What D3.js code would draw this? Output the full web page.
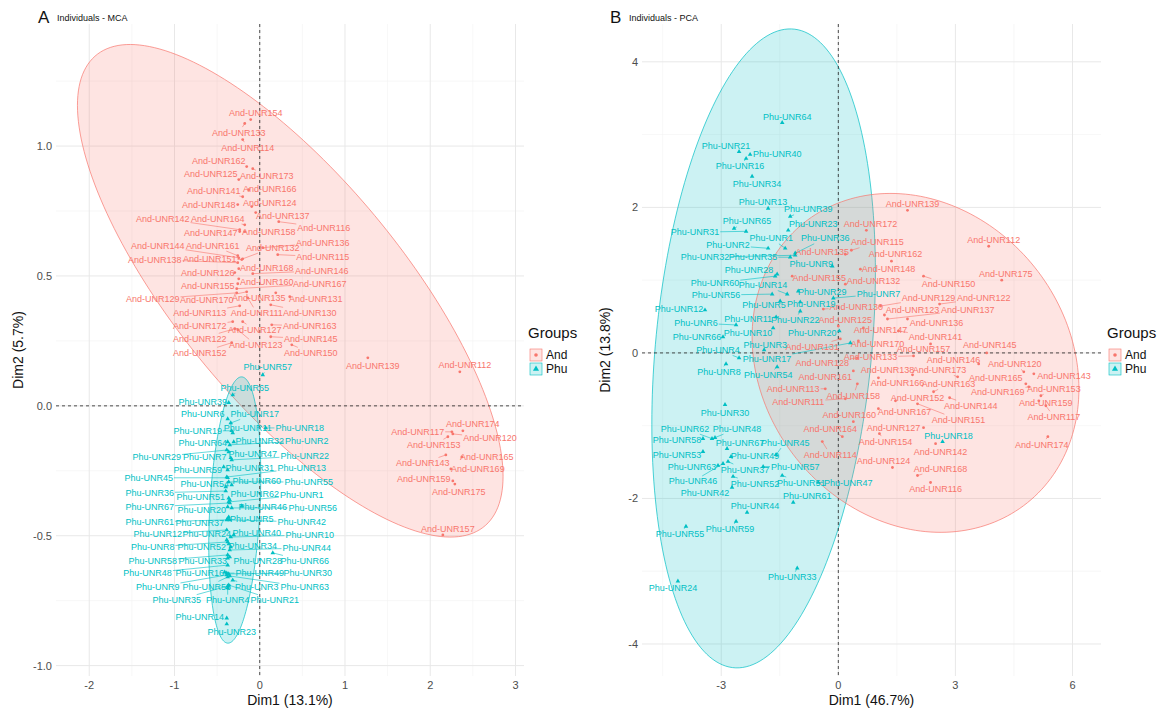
<!DOCTYPE html>
<html><head><meta charset="utf-8">
<script src="https://cdn.jsdelivr.net/npm/d3@7"></script>
<style>
body{margin:0;background:#fff;}
text{font-family:"Liberation Sans",Arial,sans-serif;}
</style></head><body>
<svg id="chart" width="1168" height="709"></svg>
<script>
const groups = ["And", "Phu"];
const groupColors = ["#F8766D", "#00BFC4"];

// MCA individuals: [id, Dim1, Dim2, label Dim1, label Dim2]
const mcaAnd = [
  ["And-UNR154",-0.106,1.102,-0.047,1.129],["And-UNR133",-0.176,1.087,-0.246,1.052],
  ["And-UNR114",-0.200,1.025,-0.141,0.994],["And-UNR162",-0.153,0.921,-0.481,0.944],
  ["And-UNR173",-0.082,0.913,0.082,0.886],["And-UNR125",-0.246,0.871,-0.575,0.894],
  ["And-UNR141",-0.200,0.805,-0.540,0.829],["And-UNR166",-0.129,0.832,0.117,0.836],
  ["And-UNR148",-0.258,0.775,-0.599,0.775],["And-UNR124",-0.094,0.767,0.117,0.782],
  ["And-UNR142",-0.235,0.678,-1.138,0.721],["And-UNR164",-0.176,0.697,-0.493,0.721],
  ["And-UNR137",-0.047,0.744,0.270,0.732],["And-UNR116",0.223,0.709,0.751,0.686],
  ["And-UNR147",-0.235,0.671,-0.575,0.667],["And-UNR158",-0.176,0.671,0.106,0.671],
  ["And-UNR144",-0.246,0.570,-1.197,0.617],["And-UNR161",-0.258,0.578,-0.552,0.617],
  ["And-UNR132",-0.200,0.566,0.153,0.609],["And-UNR136",0.035,0.609,0.739,0.628],
  ["And-UNR115",0.211,0.582,0.739,0.574],["And-UNR138",-0.258,0.551,-1.232,0.563],
  ["And-UNR151",-0.211,0.563,-0.587,0.566],["And-UNR126",-0.293,0.513,-0.610,0.513],
  ["And-UNR168",-0.246,0.528,0.082,0.532],["And-UNR146",-0.082,0.509,0.728,0.520],
  ["And-UNR155",-0.258,0.470,-0.610,0.462],["And-UNR160",-0.246,0.489,0.082,0.478],
  ["And-UNR167",-0.270,0.451,0.704,0.470],["And-UNR129",-0.270,0.435,-1.256,0.412],
  ["And-UNR170",-0.153,0.439,-0.622,0.408],["And-UNR135",0.188,0.435,-0.012,0.416],
  ["And-UNR131",0.352,0.420,0.657,0.412],["And-UNR113",-0.235,0.385,-0.704,0.358],
  ["And-UNR111",-0.141,0.416,-0.035,0.358],["And-UNR130",0.129,0.389,0.587,0.358],
  ["And-UNR172",-0.317,0.324,-0.704,0.308],["And-UNR127",-0.200,0.324,-0.059,0.293],
  ["And-UNR163",0.141,0.312,0.587,0.308],["And-UNR122",-0.293,0.297,-0.704,0.258],
  ["And-UNR145",0.129,0.266,0.599,0.258],["And-UNR123",-0.258,0.293,-0.047,0.235],
  ["And-UNR152",-0.329,0.243,-0.704,0.204],["And-UNR150",0.376,0.235,0.599,0.204],
  ["And-UNR139",1.268,0.185,1.326,0.154],["And-UNR112",2.347,0.131,2.406,0.158],
  ["And-UNR174",2.383,-0.096,2.500,-0.069],["And-UNR117",2.254,-0.100,1.854,-0.100],
  ["And-UNR120",2.265,-0.108,2.700,-0.123],["And-UNR153",2.207,-0.119,2.042,-0.150],
  ["And-UNR143",2.183,-0.189,1.913,-0.220],["And-UNR165",2.371,-0.197,2.664,-0.197],
  ["And-UNR169",2.242,-0.243,2.559,-0.243],["And-UNR159",2.265,-0.289,1.925,-0.281],
  ["And-UNR175",2.289,-0.301,2.336,-0.331],["And-UNR157",2.148,-0.497,2.207,-0.474]
];
const mcaPhu = [
  ["Phu-UNR57",0.035,0.119,0.094,0.150],["Phu-UNR65",-0.317,0.042,-0.176,0.069],
  ["Phu-UNR39",-0.364,0.012,-0.669,0.015],["Phu-UNR6",-0.376,-0.050,-0.669,-0.031],
  ["Phu-UNR17",-0.340,-0.066,-0.059,-0.031],["Phu-UNR19",-0.329,-0.096,-0.728,-0.096],
  ["Phu-UNR11",-0.317,-0.104,-0.141,-0.085],["Phu-UNR18",0.070,-0.085,0.469,-0.085],
  ["Phu-UNR64",-0.376,-0.139,-0.669,-0.143],["Phu-UNR32",-0.305,-0.139,0.000,-0.135],
  ["Phu-UNR2",-0.352,-0.150,0.552,-0.135],["Phu-UNR29",-0.387,-0.170,-1.209,-0.197],
  ["Phu-UNR7",-0.364,-0.177,-0.646,-0.197],["Phu-UNR47",-0.340,-0.200,-0.082,-0.185],
  ["Phu-UNR22",-0.329,-0.208,0.528,-0.193],["Phu-UNR59",-0.423,-0.235,-0.728,-0.247],
  ["Phu-UNR31",-0.376,-0.247,-0.117,-0.239],["Phu-UNR13",-0.387,-0.274,0.493,-0.239],
  ["Phu-UNR45",-0.376,-0.277,-1.303,-0.277],["Phu-UNR54",-0.399,-0.312,-0.646,-0.301],
  ["Phu-UNR60",-0.329,-0.304,-0.035,-0.289],["Phu-UNR55",-0.364,-0.293,0.575,-0.293],
  ["Phu-UNR36",-0.399,-0.328,-1.291,-0.335],["Phu-UNR51",-0.364,-0.355,-0.692,-0.351],
  ["Phu-UNR62",-0.352,-0.362,-0.059,-0.339],["Phu-UNR1",-0.364,-0.370,0.493,-0.343],
  ["Phu-UNR67",-0.352,-0.374,-1.291,-0.389],["Phu-UNR20",-0.376,-0.389,-0.681,-0.401],
  ["Phu-UNR46",-0.211,-0.385,0.035,-0.389],["Phu-UNR56",-0.329,-0.393,0.622,-0.393],
  ["Phu-UNR61",-0.387,-0.439,-1.291,-0.447],["Phu-UNR37",-0.376,-0.435,-0.704,-0.451],
  ["Phu-UNR5",-0.364,-0.428,-0.094,-0.435],["Phu-UNR42",-0.352,-0.439,0.493,-0.447],
  ["Phu-UNR12",-0.387,-0.478,-1.197,-0.493],["Phu-UNR24",-0.387,-0.516,-0.622,-0.493],
  ["Phu-UNR40",-0.305,-0.497,-0.035,-0.489],["Phu-UNR10",-0.340,-0.505,0.587,-0.497],
  ["Phu-UNR8",-0.376,-0.524,-1.256,-0.543],["Phu-UNR52",-0.364,-0.532,-0.681,-0.543],
  ["Phu-UNR34",-0.340,-0.543,-0.082,-0.539],["Phu-UNR44",-0.352,-0.555,0.552,-0.547],
  ["Phu-UNR58",-0.376,-0.574,-1.256,-0.597],["Phu-UNR33",-0.376,-0.586,-0.669,-0.597],
  ["Phu-UNR28",-0.352,-0.582,-0.023,-0.597],["Phu-UNR66",0.153,-0.566,0.528,-0.597],
  ["Phu-UNR48",-0.376,-0.613,-1.315,-0.644],["Phu-UNR16",-0.411,-0.640,-0.704,-0.644],
  ["Phu-UNR49",-0.387,-0.644,0.000,-0.644],["Phu-UNR30",-0.364,-0.647,0.563,-0.644],
  ["Phu-UNR9",-0.387,-0.651,-1.197,-0.697],["Phu-UNR53",-0.376,-0.659,-0.622,-0.697],
  ["Phu-UNR3",-0.317,-0.671,-0.035,-0.697],["Phu-UNR63",-0.352,-0.655,0.528,-0.697],
  ["Phu-UNR35",-0.376,-0.694,-0.974,-0.748],["Phu-UNR4",-0.376,-0.701,-0.376,-0.748],
  ["Phu-UNR21",-0.364,-0.690,0.176,-0.748],["Phu-UNR14",-0.387,-0.817,-0.704,-0.813],
  ["Phu-UNR23",-0.387,-0.840,-0.329,-0.871]
];

// PCA individuals: [id, Dim1, Dim2, label Dim1, label Dim2]
const pcaAnd = [
  ["And-UNR139",1.772,1.959,1.901,2.041],["And-UNR172",0.719,1.685,0.822,1.767],
  ["And-UNR115",0.334,1.411,1.002,1.521],["And-UNR162",1.361,1.260,1.464,1.356],
  ["And-UNR148",0.565,1.151,1.284,1.151],["And-UNR112",3.853,1.466,3.982,1.548],
  ["And-UNR135",0.180,1.356,-0.411,1.384],["And-UNR155",-1.182,1.055,-0.488,1.027],
  ["And-UNR132",0.180,0.945,0.899,0.986],["And-UNR150",2.183,1.055,2.826,0.945],
  ["And-UNR175",4.187,1.000,4.290,1.082],["And-UNR129",1.079,0.644,2.312,0.753],
  ["And-UNR122",2.594,0.671,3.725,0.753],["And-UNR130",-0.385,0.603,0.462,0.630],
  ["And-UNR123",1.182,0.521,1.901,0.589],["And-UNR137",1.259,0.466,3.314,0.589],
  ["And-UNR136",1.772,0.466,2.517,0.411],["And-UNR147",0.642,0.342,1.079,0.315],
  ["And-UNR141",1.541,0.301,2.492,0.219],["And-UNR125",0.000,0.370,0.180,0.452],
  ["And-UNR131",0.051,0.192,-0.668,0.082],["And-UNR170",0.514,0.164,1.002,0.123],
  ["And-UNR157",2.363,0.123,2.183,0.055],["And-UNR145",3.802,0.000,3.879,0.110],
  ["And-UNR133",1.927,-0.041,0.822,-0.055],["And-UNR146",3.596,-0.151,2.954,-0.096],
  ["And-UNR120",4.752,-0.260,4.521,-0.151],["And-UNR138",1.901,-0.301,1.259,-0.233],
  ["And-UNR173",3.057,-0.329,2.594,-0.233],["And-UNR143",5.009,-0.288,5.780,-0.315],
  ["And-UNR128",0.488,-0.068,-0.411,-0.137],["And-UNR161",0.385,-0.247,-0.334,-0.329],
  ["And-UNR158",0.488,-0.425,0.385,-0.589],["And-UNR166",1.027,-0.342,1.516,-0.411],
  ["And-UNR163",2.440,-0.534,2.826,-0.425],["And-UNR165",4.804,-0.425,4.033,-0.342],
  ["And-UNR169",4.881,-0.466,4.084,-0.534],["And-UNR153",5.189,-0.589,5.523,-0.493],
  ["And-UNR152",1.464,-0.658,2.029,-0.616],["And-UNR144",2.851,-0.616,3.391,-0.726],
  ["And-UNR159",5.137,-0.658,5.317,-0.685],["And-UNR113",-0.334,-0.493,-1.156,-0.493],
  ["And-UNR111",0.180,-0.630,-1.027,-0.671],["And-UNR160",0.385,-0.945,0.283,-0.849],
  ["And-UNR167",1.027,-0.767,1.695,-0.808],["And-UNR151",2.029,-0.699,3.082,-0.918],
  ["And-UNR117",5.317,-0.726,5.523,-0.877],["And-UNR164",0.103,-1.151,-0.206,-1.041],
  ["And-UNR127",2.183,-1.027,1.413,-1.027],["And-UNR154",1.053,-1.110,1.207,-1.219],
  ["And-UNR142",2.492,-1.247,2.620,-1.356],["And-UNR174",5.369,-1.151,5.214,-1.260],
  ["And-UNR114",-0.411,-1.219,-0.206,-1.397],["And-UNR124",1.387,-1.575,1.156,-1.479],
  ["And-UNR168",2.029,-1.685,2.620,-1.589],["And-UNR116",2.363,-1.781,2.492,-1.877]
];
const pcaPhu = [
  ["Phu-UNR64",-1.438,3.164,-1.310,3.247],["Phu-UNR21",-2.543,2.767,-2.877,2.849],
  ["Phu-UNR40",-2.260,2.726,-1.567,2.740],["Phu-UNR16",-2.363,2.671,-2.517,2.562],
  ["Phu-UNR34",-2.209,2.425,-2.081,2.315],["Phu-UNR13",-1.798,1.986,-1.927,2.068],
  ["Phu-UNR39",-1.233,1.877,-0.771,1.973],["Phu-UNR65",-2.671,1.712,-2.338,1.808],
  ["Phu-UNR23",-1.284,1.685,-0.642,1.767],["Phu-UNR31",-2.363,1.671,-3.673,1.658],
  ["Phu-UNR1",-1.361,1.438,-1.721,1.575],["Phu-UNR36",-1.105,1.370,-0.334,1.575],
  ["Phu-UNR2",-1.798,1.438,-2.826,1.479],["Phu-UNR32",-1.105,1.342,-3.416,1.315],
  ["Phu-UNR35",-1.233,1.315,-2.183,1.315],["Phu-UNR9",-0.154,1.192,-0.694,1.219],
  ["Phu-UNR28",-1.567,1.082,-2.286,1.137],["Phu-UNR60",-1.618,1.055,-3.160,0.959],
  ["Phu-UNR14",-1.310,0.808,-1.927,0.932],["Phu-UNR56",-1.695,0.808,-3.134,0.795],
  ["Phu-UNR29",-1.027,0.849,-0.411,0.836],["Phu-UNR5",-1.490,0.712,-1.901,0.658],
  ["Phu-UNR19",-0.976,0.699,-0.694,0.671],["Phu-UNR12",-3.416,0.589,-4.084,0.603],
  ["Phu-UNR11",-1.593,0.493,-2.312,0.466],["Phu-UNR22",-0.976,0.575,-1.105,0.452],
  ["Phu-UNR6",-2.620,0.384,-3.648,0.411],["Phu-UNR66",-2.954,0.219,-3.622,0.219],
  ["Phu-UNR10",-1.670,0.342,-2.312,0.274],["Phu-UNR20",0.026,0.301,-0.668,0.274],
  ["Phu-UNR3",-1.901,0.041,-1.875,0.110],["Phu-UNR4",-2.543,-0.068,-3.083,0.041],
  ["Phu-UNR17",0.308,0.137,-1.824,-0.082],["Phu-UNR8",-2.877,-0.151,-3.057,-0.260],
  ["Phu-UNR54",-1.567,-0.192,-1.798,-0.301],["Phu-UNR7",-0.128,0.753,1.027,0.808],
  ["Phu-UNR18",2.671,-1.219,2.826,-1.137],["Phu-UNR30",-2.903,-0.712,-2.903,-0.822],
  ["Phu-UNR62",-3.237,-1.178,-3.930,-1.041],["Phu-UNR48",-3.160,-1.164,-2.594,-1.041],
  ["Phu-UNR58",-3.468,-1.178,-4.136,-1.192],["Phu-UNR67",-2.851,-1.315,-2.517,-1.233],
  ["Phu-UNR45",-1.593,-1.397,-1.361,-1.233],["Phu-UNR53",-3.468,-1.356,-4.136,-1.397],
  ["Phu-UNR49",-2.749,-1.425,-2.132,-1.411],["Phu-UNR63",-3.083,-1.548,-3.750,-1.562],
  ["Phu-UNR37",-2.826,-1.493,-2.389,-1.603],["Phu-UNR57",-1.927,-1.562,-1.105,-1.562],
  ["Phu-UNR46",-2.954,-1.521,-3.725,-1.767],["Phu-UNR52",-2.697,-1.699,-2.132,-1.795],
  ["Phu-UNR51",-1.438,-1.685,-0.950,-1.781],["Phu-UNR47",-0.514,-1.781,0.257,-1.781],
  ["Phu-UNR42",-2.723,-1.849,-3.416,-1.932],["Phu-UNR61",-1.156,-2.055,-0.796,-1.973],
  ["Phu-UNR44",-2.338,-2.192,-2.132,-2.110],["Phu-UNR55",-3.904,-2.384,-4.059,-2.493],
  ["Phu-UNR59",-2.620,-2.315,-2.774,-2.425],["Phu-UNR33",-1.053,-2.959,-1.182,-3.082],
  ["Phu-UNR24",-4.110,-3.137,-4.238,-3.233]
];

// Concentration ellipses per group: [group, centre Dim1, centre Dim2, sxx, sxy, syy]
const mcaEllipses = [
  ["And", 0.358, 0.443, 6.232, -1.782, 0.899],
  ["Phu", -0.293, -0.401, 0.0931, 0.0407, 0.2627]
];
const pcaEllipses = [
  ["Phu", -1.914, 0.062, 8.203, 2.988, 19.276],
  ["And", 1.978, -0.137, 17.53, -1.4955, 5.423]
];

const mcaXTicks = [-2, -1, 0, 1, 2, 3];
const mcaYTicks = [-1, -0.5, 0, 0.5, 1];
const mcaXMinor = [-1.5, -0.5, 0.5, 1.5, 2.5];
const mcaYMinor = [-0.75, -0.25, 0.25, 0.75, 1.25];
const pcaXTicks = [-3, 0, 3, 6];
const pcaYTicks = [-4, -2, 0, 2, 4];
const pcaXMinor = [-4.5, -1.5, 1.5, 4.5];
const pcaYMinor = [-3, -1, 1, 3];

const loc = d3.formatLocale({decimal: ".", thousands: ",", grouping: [3], currency: ["$", ""], minus: "-"});

const panels = [
  {tag: "A", title: "Individuals - MCA", and: mcaAnd, phu: mcaPhu, ell: mcaEllipses,
   xDomain: [-2.39, 3.10], yDomain: [-1.04, 1.47], left: 56, right: 524,
   xTicks: mcaXTicks, yTicks: mcaYTicks, xMinor: mcaXMinor, yMinor: mcaYMinor,
   yFmt: loc.format(".1f"), xFmt: loc.format("d"),
   xTitle: "Dim1 (13.1%)", yTitle: "Dim2 (5.7%)", tagX: 38, yTitleX: 18, legendX: 528},
  {tag: "B", title: "Individuals - PCA", and: pcaAnd, phu: pcaPhu, ell: pcaEllipses,
   xDomain: [-5.03, 6.73], yDomain: [-4.44, 4.52], left: 642, right: 1101,
   xTicks: pcaXTicks, yTicks: pcaYTicks, xMinor: pcaXMinor, yMinor: pcaYMinor,
   yFmt: loc.format("d"), xFmt: loc.format("d"),
   xTitle: "Dim1 (46.7%)", yTitle: "Dim2 (13.8%)", tagX: 610, yTitleX: 605, legendX: 1107}
];

const svg = d3.select("#chart");
const plotTop = 24, plotBottom = 676;
const triangle = d3.symbol().type(d3.symbolTriangle).size(9);

panels.forEach(p => {
  const x = d3.scaleLinear().domain(p.xDomain).range([p.left, p.right]);
  const y = d3.scaleLinear().domain(p.yDomain).range([plotBottom, plotTop]);
  const g = svg.append("g");

  // grid
  const grid = g.append("g");
  p.xMinor.forEach(v => grid.append("line").attr("x1", x(v)).attr("x2", x(v)).attr("y1", plotTop).attr("y2", plotBottom)
    .attr("stroke", "#f1f1f1").attr("stroke-width", 0.6));
  p.yMinor.forEach(v => grid.append("line").attr("y1", y(v)).attr("y2", y(v)).attr("x1", p.left).attr("x2", p.right)
    .attr("stroke", "#f1f1f1").attr("stroke-width", 0.6));
  p.xTicks.forEach(v => grid.append("line").attr("x1", x(v)).attr("x2", x(v)).attr("y1", plotTop).attr("y2", plotBottom)
    .attr("stroke", "#e8e8e8").attr("stroke-width", 1));
  p.yTicks.forEach(v => grid.append("line").attr("y1", y(v)).attr("y2", y(v)).attr("x1", p.left).attr("x2", p.right)
    .attr("stroke", "#e8e8e8").attr("stroke-width", 1));

  // ellipses
  const line = d3.line().x(d => x(d[0])).y(d => y(d[1])).curve(d3.curveLinearClosed);
  p.ell.forEach(e => {
    const [grp, cx, cy, sxx, sxy, syy] = e;
    const l11 = Math.sqrt(sxx), l21 = sxy / l11, l22 = Math.sqrt(syy - l21 * l21);
    const pts = d3.range(0, 200).map(i => {
      const t = i / 200 * 2 * Math.PI;
      return [cx + l11 * Math.cos(t), cy + l21 * Math.cos(t) + l22 * Math.sin(t)];
    });
    const col = groupColors[groups.indexOf(grp)];
    g.append("path").attr("d", line(pts)).attr("fill", col).attr("fill-opacity", 0.2)
      .attr("stroke", col).attr("stroke-width", 0.7);
  });

  // reference lines
  g.append("line").attr("x1", x(0)).attr("x2", x(0)).attr("y1", plotTop).attr("y2", plotBottom)
    .attr("stroke", "#222").attr("stroke-width", 0.8).attr("stroke-dasharray", "3,3");
  g.append("line").attr("y1", y(0)).attr("y2", y(0)).attr("x1", p.left).attr("x2", p.right)
    .attr("stroke", "#222").attr("stroke-width", 0.8).attr("stroke-dasharray", "3,3");

  // labels, segments, points
  const segG = g.append("g"), ptG = g.append("g"), lblG = g.append("g");
  [["And", p.and], ["Phu", p.phu]].forEach(([grp, rows]) => {
    const col = groupColors[groups.indexOf(grp)];
    rows.forEach(r => {
      const [id, d1, d2, l1, l2] = r;
      const px = x(d1), py = y(d2), lx = x(l1), ly = y(l2);
      const t = lblG.append("text").attr("x", lx).attr("y", ly).attr("text-anchor", "middle")
        .attr("dominant-baseline", "central").attr("font-size", 9).attr("fill", col).text(id);
      const hw = t.node().getComputedTextLength() / 2 + 1, hh = 5.5;
      const dx = px - lx, dy = py - ly;
      if (Math.abs(dx) > hw || Math.abs(dy) > hh) {
        const s = Math.min(dx === 0 ? Infinity : hw / Math.abs(dx), dy === 0 ? Infinity : hh / Math.abs(dy));
        const ex = lx + dx * s, ey = ly + dy * s;
        if (Math.hypot(px - ex, py - ey) > 3) {
          segG.append("line").attr("x1", ex).attr("y1", ey).attr("x2", px).attr("y2", py)
            .attr("stroke", col).attr("stroke-width", 0.6);
        }
      }
      if (grp === "And") {
        ptG.append("circle").attr("cx", px).attr("cy", py).attr("r", 1.4).attr("fill", col);
      } else {
        ptG.append("path").attr("d", triangle).attr("transform", `translate(${px},${py})`).attr("fill", col);
      }
    });
  });

  // axes text
  p.xTicks.forEach(v => g.append("text").attr("x", x(v)).attr("y", plotBottom + 13).attr("text-anchor", "middle")
    .attr("font-size", 11).attr("fill", "#4d4d4d").text(p.xFmt(v)));
  p.yTicks.forEach(v => g.append("text").attr("x", p.left - 4).attr("y", y(v)).attr("text-anchor", "end")
    .attr("dominant-baseline", "central").attr("font-size", 11).attr("fill", "#4d4d4d").text(p.yFmt(v)));
  g.append("text").attr("x", (p.left + p.right) / 2).attr("y", 705).attr("text-anchor", "middle")
    .attr("font-size", 14).attr("fill", "#111").text(p.xTitle);
  g.append("text").attr("transform", `translate(${p.yTitleX},${(plotTop + plotBottom) / 2}) rotate(-90)`)
    .attr("text-anchor", "middle").attr("dominant-baseline", "central")
    .attr("font-size", 14).attr("fill", "#111").text(p.yTitle);

  // tag and title
  g.append("text").attr("x", p.tagX).attr("y", 23).attr("font-size", 17).attr("fill", "#111").text(p.tag);
  g.append("text").attr("x", p.tagX + 19).attr("y", 21).attr("font-size", 9).attr("fill", "#111").text(p.title);

  // legend
  const lg = g.append("g").attr("transform", `translate(${p.legendX},0)`);
  lg.append("text").attr("x", 0).attr("y", 338).attr("font-size", 15).attr("fill", "#111").text("Groups");
  groups.forEach((grp, i) => {
    const col = groupColors[i], cy = 355 + i * 14;
    lg.append("rect").attr("x", 2).attr("y", cy - 6).attr("width", 12).attr("height", 12)
      .attr("fill", col).attr("fill-opacity", 0.2).attr("stroke", col).attr("stroke-width", 0.6);
    if (grp === "And") {
      lg.append("circle").attr("cx", 8).attr("cy", cy).attr("r", 1.8).attr("fill", col);
    } else {
      lg.append("path").attr("d", d3.symbol().type(d3.symbolTriangle).size(16)).attr("transform", `translate(8,${cy})`).attr("fill", col);
    }
    lg.append("text").attr("x", 18).attr("y", cy).attr("dominant-baseline", "central")
      .attr("font-size", 12).attr("fill", "#111").text(grp);
  });
});
</script>
</body></html>
